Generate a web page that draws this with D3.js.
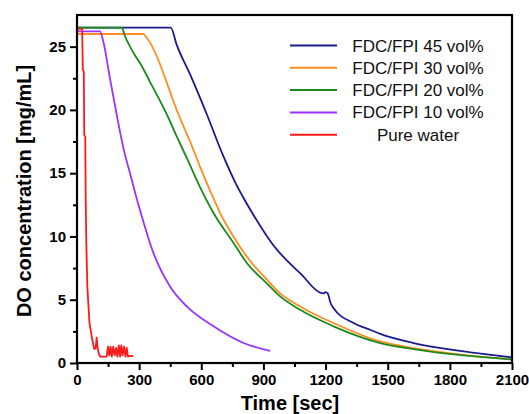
<!DOCTYPE html>
<html>
<head>
<meta charset="utf-8">
<script src="https://cdn.jsdelivr.net/npm/d3@7"></script>
<style>
  body { margin: 0; background: #fff; }
  svg { display: block; font-family: "Liberation Sans", Arial, sans-serif; }
</style>
</head>
<body>
<div id="chart"></div>
<script>
// series: [time sec, DO mg/mL]
const fdc45 = [[0,26.5],[453,26.5],[480,25.2],[546,22.8],[628,19.6],[705,16.4],[763,14.3],[802,13.1],[852,11.7],[948,9.3],[1077,7.1],[1190,5.5],[1200,5.6],[1210,5.5],[1225,4.7],[1238,4.35],[1335,3.16],[1415,2.63],[1464,2.3],[1625,1.58],[1866,0.92],[2100,0.45]];
const fdc30 = [[0,26.0],[320,26.0],[337,25.7],[449,21.45],[465,20.7],[530,18.1],[546,17.5],[594,15.5],[651,13.3],[691,11.85],[755,10.0],[820,8.4],[916,6.6],[981,5.5],[1077,4.47],[1238,3.16],[1464,1.7],[1624,1.18],[1866,0.65],[2100,0.3]];
const fdc20 = [[0,26.5],[216,26.5],[230,25.9],[288,24.1],[304,23.7],[353,22.2],[449,19.1],[465,18.5],[530,16.2],[594,13.9],[659,11.85],[755,9.5],[820,7.9],[916,6.3],[981,5.26],[1077,4.2],[1238,2.9],[1464,1.58],[1624,1.1],[1866,0.6],[2100,0.28]];
const fdc10 = [[0,26.2],[111,26.2],[127,25.4],[159,22.5],[192,19.6],[224,17.0],[264,14.5],[280,13.5],[304,12.1],[369,8.7],[449,6.05],[530,4.47],[659,2.9],[804,1.58],[932,0.95]];
const water = [[0,26.4],[25,26.4],[28,23.2],[33,23.0],[35,18.0],[40,17.9],[42,13],[45,9.5],[50,6],[55,4.6],[60,3.2],[66,2.6],[72,2.0],[79,1.4],[84,1.1],[90,1.2],[95,2.0],[100,1.1],[106,0.7],[112,0.5],[125,0.5],[143,0.5],[150,1.3],[156,0.6],[162,1.3],[168,0.5],[175,1.3],[182,0.6],[189,1.2],[195,0.5],[202,1.4],[208,0.5],[214,1.4],[220,0.6],[227,1.3],[234,0.5],[240,1.2],[246,0.5],[252,0.55],[272,0.55]];

const seriesNames = ["FDC/FPI 45 vol%", "FDC/FPI 30 vol%", "FDC/FPI 20 vol%", "FDC/FPI 10 vol%", "Pure water"];
const seriesColors = ["#1b1b8e", "#ff8c1f", "#1a8a1a", "#9933ff", "#ff1a1a"];
const xTicks = [0, 300, 600, 900, 1200, 1500, 1800, 2100];
const yTicks = [0, 5, 10, 15, 20, 25];

const width = 529, height = 414;
const margin = {top: 15, right: 17, bottom: 51, left: 77};

const svg = d3.select('#chart')
    .append('svg')
    .attr('width', width)
    .attr('height', height);

const x = d3.scaleLinear().domain([0, 2100]).range([margin.left, width - margin.right]);
const y = d3.scaleLinear().domain([0, 27.5]).range([height - margin.bottom, margin.top]);

// minor ticks
svg.append('g')
    .attr('transform', 'translate(0,' + y(0) + ')')
    .call(d3.axisBottom(x).tickValues(d3.range(150, 2100, 300)).tickSize(4).tickFormat(''))
    .call(g => g.select('.domain').remove())
    .selectAll('line').attr('stroke-width', 2);

svg.append('g')
    .attr('transform', 'translate(' + x(0) + ',0)')
    .call(d3.axisLeft(y).tickValues(d3.range(2.5, 27.5, 5)).tickSize(4).tickFormat(''))
    .call(g => g.select('.domain').remove())
    .selectAll('line').attr('stroke-width', 2);

// major ticks
let xAxis = svg.append('g')
    .attr('transform', 'translate(0,' + y(0) + ')')
    .call(d3.axisBottom(x).tickValues(xTicks).tickSize(7).tickPadding(4).tickFormat(d3.format('d')))
    .call(g => g.select('.domain').remove());
xAxis.selectAll('line').attr('stroke-width', 2);
xAxis.selectAll('text').attr('font-size', 15).attr('font-weight', 'bold').attr('fill', '#000')
    .style('font-family', '"Liberation Sans", Arial, sans-serif');

let yAxis = svg.append('g')
    .attr('transform', 'translate(' + x(0) + ',0)')
    .call(d3.axisLeft(y).tickValues(yTicks).tickSize(7).tickPadding(4).tickFormat(d3.format('d')))
    .call(g => g.select('.domain').remove());
yAxis.selectAll('line').attr('stroke-width', 2);
yAxis.selectAll('text').attr('font-size', 15).attr('font-weight', 'bold').attr('fill', '#000')
    .style('font-family', '"Liberation Sans", Arial, sans-serif');

// curves - smooth decays, raw polyline for the noisy water trace
const smoothLine = d3.line().x(d => x(d[0])).y(d => y(d[1])).curve(d3.curveMonotoneX);
const rawLine = d3.line().x(d => x(d[0])).y(d => y(d[1]));
const allSeries = [fdc45, fdc30, fdc20, fdc10, water];

allSeries.forEach((s, i) => {
    svg.append('path')
        .datum(s)
        .attr('d', i === 4 ? rawLine : smoothLine)
        .attr('fill', 'none')
        .attr('stroke', seriesColors[i])
        .attr('stroke-width', 1.8)
        .attr('stroke-linejoin', 'round');
});

// frame
svg.append('rect')
    .attr('x', x(0))
    .attr('y', y(27.5))
    .attr('width', x(2100) - x(0))
    .attr('height', y(0) - y(27.5))
    .attr('fill', 'none')
    .attr('stroke', '#000')
    .attr('stroke-width', 2.2);

// legend
const legend = svg.append('g');
seriesNames.forEach((name, i) => {
    let ly = 45.5 + i * 22.3;
    legend.append('line')
        .attr('x1', 290).attr('x2', 337)
        .attr('y1', ly).attr('y2', ly)
        .attr('stroke', seriesColors[i])
        .attr('stroke-width', 2);
    legend.append('text')
        .attr('x', 418)
        .attr('y', ly + 6)
        .attr('text-anchor', 'middle')
        .attr('font-size', 17)
        .attr('fill', '#111')
        .text(name);
});

// axis titles
svg.append('text')
    .attr('x', 290)
    .attr('y', 410)
    .attr('text-anchor', 'middle')
    .attr('font-size', 20)
    .attr('font-weight', 'bold')
    .text('Time [sec]');

svg.append('text')
    .attr('transform', 'translate(31,191) rotate(-90)')
    .attr('text-anchor', 'middle')
    .attr('font-size', 20)
    .attr('font-weight', 'bold')
    .text('DO concentration [mg/mL]');
</script>
</body>
</html>
